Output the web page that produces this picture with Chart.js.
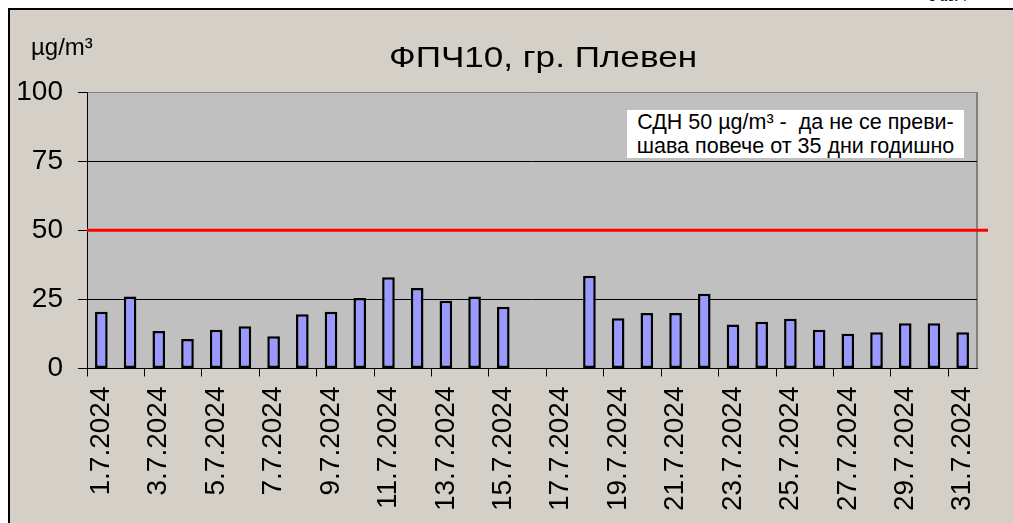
<!DOCTYPE html>
<html>
<head>
<meta charset="utf-8">
<script src="https://cdn.jsdelivr.net/npm/chart.js@4.4.1/dist/chart.umd.min.js"></script>
<style>
  body { margin: 0; width: 1013px; height: 523px; background: #fff; overflow: hidden; position: relative; font-family: Arial, "Liberation Sans", sans-serif; }
  #frame { position: absolute; left: 8px; top: 8px; width: 1005px; height: 515px; border-top: 2px solid #000; border-left: 2px solid #000; background: #d4d0c8; }
  #fig { position: absolute; left: 926px; top: -14px; font: italic 17px "Liberation Serif", "Times New Roman", serif; color: #000; }
  #chart { position: absolute; left: 0; top: 0; }
  #note { position: absolute; left: 627px; top: 110px; width: 337px; height: 48px; background: #fff; font-size: 21.5px; line-height: 24px; text-align: center; color: #000; white-space: nowrap; }
</style>
</head>
<body>
<div id="fig">Фиг. 7</div>
<div id="frame"></div>
<canvas id="chart" width="1013" height="523"></canvas>
<div id="note">СДН 50 µg/m³ -&nbsp; да не се преви-<br>шава повече от 35 дни годишно</div>
<script>
const days = [];
for (let d = 1; d <= 31; d++) days.push(d + ".7.2024");

const pm10 = [20.5, 26, 13.6, 10.7, 14, 15.3, 11.7, 19.6, 20.5, 25.5,
  33, 29.1, 24.5, 26, 22.3, null, null, 33.5, 18.2, 20.1,
  20.1, 27, 15.9, 16.9, 18, 14, 12.6, 13.1, 16.4, 16.4, 13.1];

const yTicks = [0, 25, 50, 75, 100];
const limitValue = 50;
const chartTitle = "ФПЧ10, гр. Плевен";
const unitLabel = "µg/m³";

Chart.defaults.font.family = 'Arial, "Liberation Sans", sans-serif';
Chart.defaults.color = "#000";

const plotBg = {
  id: "plotBg",
  beforeDraw(chart) {
    const { ctx, chartArea: a } = chart;
    ctx.save();
    ctx.fillStyle = "#c0c0c0";
    ctx.fillRect(a.left, a.top, a.right - a.left, a.bottom - a.top);
    ctx.strokeStyle = "#808080";
    ctx.lineWidth = 2;
    ctx.beginPath();
    ctx.moveTo(a.right, a.top);
    ctx.lineTo(a.right, a.bottom);
    ctx.stroke();
    ctx.restore();
  }
};

const limitLine = {
  id: "limitLine",
  afterDatasetsDraw(chart) {
    const { ctx, chartArea: a, scales } = chart;
    const y = scales.y.getPixelForValue(limitValue);
    ctx.save();
    ctx.strokeStyle = "#ff0000";
    ctx.lineWidth = 3;
    ctx.beginPath();
    ctx.moveTo(a.left, y);
    ctx.lineTo(a.right + 11, y);
    ctx.stroke();
    ctx.restore();
  }
};

// title and unit text, slightly wide like the original
const texts = {
  id: "texts",
  afterDraw(chart) {
    const ctx = chart.ctx;
    ctx.save();
    ctx.fillStyle = "#000";
    ctx.font = '30px Arial, "Liberation Sans", sans-serif';
    ctx.textAlign = "center";
    ctx.textBaseline = "alphabetic";
    ctx.translate(543, 67);
    ctx.scale(1.17, 1);
    ctx.fillText(chartTitle, 0, 0);
    ctx.restore();
    ctx.save();
    ctx.fillStyle = "#000";
    ctx.font = '24px Arial, "Liberation Sans", sans-serif';
    ctx.textAlign = "left";
    ctx.fillText(unitLabel, 31, 55);
    ctx.restore();
  }
};

new Chart(document.getElementById("chart").getContext("2d"), {
  type: "bar",
  data: {
    labels: days,
    datasets: [{
      data: pm10,
      backgroundColor: "#9999ff",
      borderColor: "#000",
      borderWidth: 2.5,
      borderSkipped: false,
      barPercentage: 0.44,
      categoryPercentage: 1
    }]
  },
  options: {
    responsive: false,
    animation: false,
    layout: { padding: { left: 0, top: 92, right: 36, bottom: 0 } },
    plugins: { legend: { display: false }, tooltip: { enabled: false } },
    scales: {
      x: {
        afterFit(s) { s.height = 154.5; },
        grid: {
          offset: true,
          drawOnChartArea: false,
          tickLength: 8,
          color: c => (c.index % 2 === 0 && c.index < days.length) ? "#000" : "rgba(0,0,0,0)"
        },
        border: { color: "#000", width: 1 },
        ticks: {
          autoSkip: false,
          minRotation: 90,
          maxRotation: 90,
          padding: 10,
          font: { size: 28 },
          callback(v, i) { return i % 2 === 0 ? days[i] : ""; }
        }
      },
      y: {
        min: 0,
        max: 100,
        afterFit(s) { s.width = 87; },
        afterBuildTicks(s) { s.ticks = yTicks.map(v => ({ value: v })); },
        grid: {
          tickLength: 9,
          tickColor: "#000",
          color: c => c.tick && c.tick.value === 100 ? "#808080" : "#000"
        },
        border: { color: "#000", width: 1 },
        ticks: { padding: 15, font: { size: 28 } }
      }
    }
  },
  plugins: [plotBg, limitLine, texts]
});
</script>
</body>
</html>
